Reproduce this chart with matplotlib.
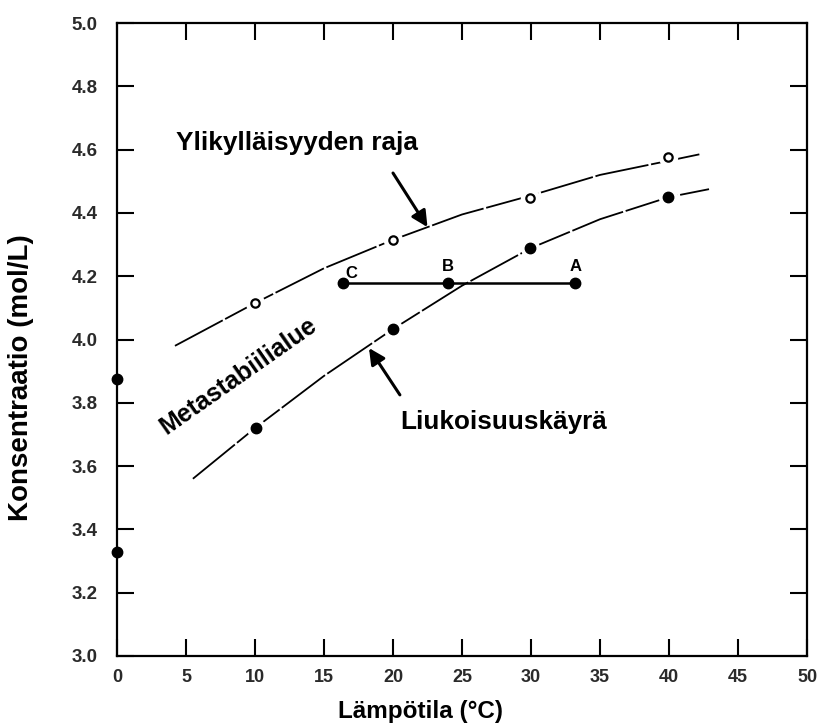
import matplotlib
matplotlib.use("Agg")
import matplotlib.pyplot as plt

plt.rcParams['font.family'] = ['Liberation Sans', 'DejaVu Sans']

# --- data ---
# supersolubility curve (Ylikylläisyyden raja)
upper_curve_x = [4.2, 10, 15, 20, 25, 30, 35, 40, 42.2]
upper_curve_y = [3.98, 4.115, 4.225, 4.315, 4.395, 4.455, 4.52, 4.565, 4.585]
upper_pts_x = [10, 20, 29.9, 39.9]
upper_pts_y = [4.115, 4.314, 4.447, 4.577]

# solubility curve (Liukoisuuskäyrä)
lower_curve_x = [5.5, 10, 15, 20, 25, 30, 35, 40, 42.9]
lower_curve_y = [3.56, 3.72, 3.885, 4.033, 4.17, 4.289, 4.38, 4.45, 4.475]
lower_pts_x = [10.1, 20, 29.9, 39.9]
lower_pts_y = [3.72, 4.033, 4.289, 4.45]

axis_pts_x = [0, 0]
axis_pts_y = [3.875, 3.33]

# path C-B-A
path_labels = ["C", "B", "A"]
path_x = [16.4, 24.0, 33.2]
path_y = [4.18, 4.18, 4.18]

x_ticks = [0, 5, 10, 15, 20, 25, 30, 35, 40, 45, 50]
y_ticks = [3.0, 3.2, 3.4, 3.6, 3.8, 4.0, 4.2, 4.4, 4.6, 4.8, 5.0]

fig = plt.figure(figsize=(8.19, 7.25), dpi=100)
ax = fig.add_axes([117/819, 69/725, 690/819, 633/725])
ax.set_xlim(0, 50)
ax.set_ylim(3.0, 5.0)

lw_curve = 1.3
ax.plot(upper_curve_x, upper_curve_y, color='black', lw=lw_curve,
        dashes=(30, 1.5), zorder=2)
ax.plot(lower_curve_x, lower_curve_y, color='black', lw=lw_curve,
        dashes=(30, 1.5), zorder=2)

# white halos producing the gaps around the markers
for xs, ys in [(upper_pts_x, upper_pts_y), (lower_pts_x, lower_pts_y)]:
    ax.plot(xs, ys, 'o', ms=14, color='white', mec='none', zorder=3)

ax.plot(upper_pts_x, upper_pts_y, 'o', ms=6, mfc='white', mec='black',
        mew=1.6, zorder=4)
ax.plot(lower_pts_x, lower_pts_y, 'o', ms=7.5, color='black', zorder=4)
ax.plot(axis_pts_x, axis_pts_y, 'o', ms=7.5, color='black', zorder=5,
        clip_on=False)

ax.plot(path_x, path_y, '-o', color='black', lw=1.8, ms=7.5, zorder=4)
label_offsets = [(0.6, 0.03), (0.0, 0.05), (0.0, 0.05)]
for lab, x, y, (dx, dy) in zip(path_labels, path_x, path_y, label_offsets):
    ax.text(x + dx, y + dy, lab, fontsize=12, fontweight='bold',
            ha='center', va='center', zorder=5)

# annotations
ax.text(4.27, 4.62, "Ylikylläisyyden raja", fontsize=18.8, fontweight='bold',
        ha='left', va='center')
ax.annotate("", xy=(22.5, 4.355), xytext=(20.0, 4.526),
            arrowprops=dict(arrowstyle='-|>', color='black', lw=2.2,
                            mutation_scale=24, shrinkA=0, shrinkB=0))
ax.text(20.5, 3.74, "Liukoisuuskäyrä", fontsize=18.8, fontweight='bold',
        ha='left', va='center')
ax.annotate("", xy=(18.26, 3.973), xytext=(20.5, 3.825),
            arrowprops=dict(arrowstyle='-|>', color='black', lw=2.2,
                            mutation_scale=24, shrinkA=0, shrinkB=0))
ax.text(8.8, 3.885, "Metastabiilialue", fontsize=18, fontweight='bold',
        ha='center', va='center', rotation=35, rotation_mode='anchor')

# axes styling
ax.set_xticks(x_ticks)
ax.set_yticks(y_ticks)
ax.set_xticklabels([str(t) for t in x_ticks])
ax.set_yticklabels([f"{t:.1f}" for t in y_ticks])
ax.tick_params(axis='both', direction='in', length=12, width=1.5,
               top=True, right=True, colors='black')
ax.tick_params(axis='x', labelsize=13, pad=9)
ax.tick_params(axis='y', labelsize=13.5, pad=14)
for lab in ax.get_xticklabels() + ax.get_yticklabels():
    lab.set_color('#2a2a2a')
    lab.set_fontweight('bold')
for sp in ax.spines.values():
    sp.set_linewidth(1.6)

ax.set_xlabel("Lämpötila (°C)", fontsize=17.5, fontweight='bold')
ax.xaxis.set_label_coords(0.44, -0.069)
ax.xaxis.label.set_va('top')
ax.set_ylabel("Konsentraatio (mol/L)", fontsize=20, fontweight='bold')
ax.yaxis.set_label_coords(-0.12, 0.44)

fig.savefig("out.png", dpi=100)
